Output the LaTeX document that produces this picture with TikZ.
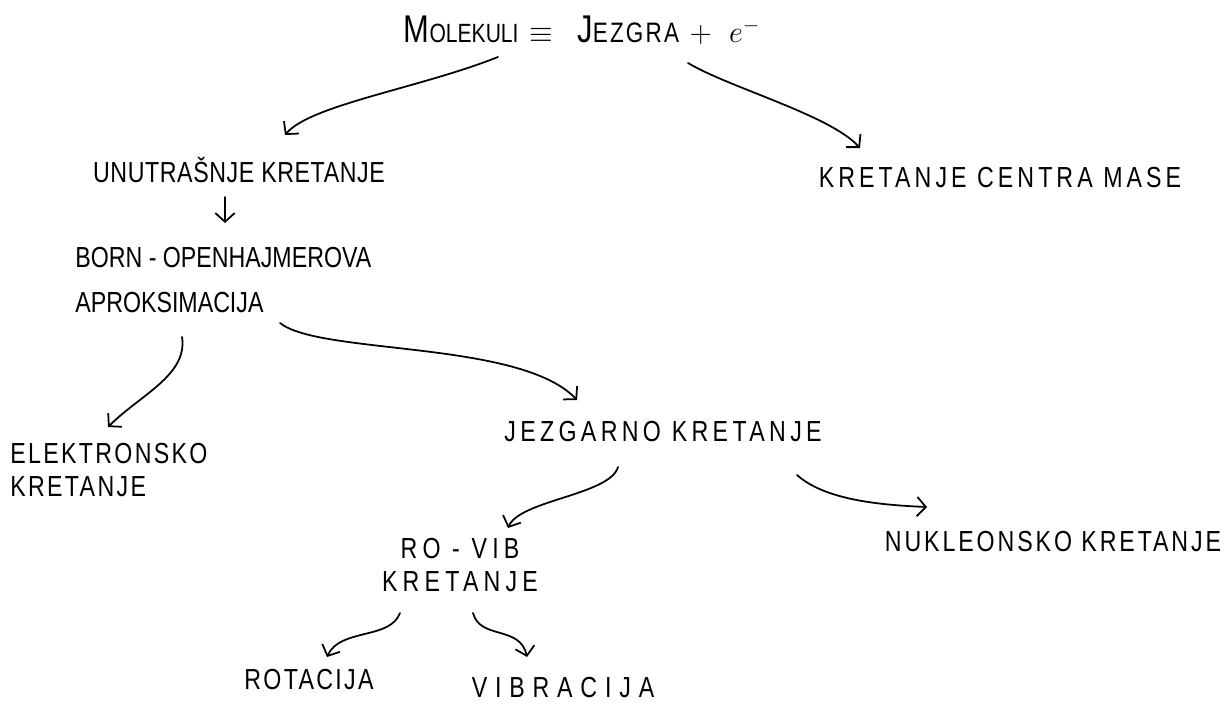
\documentclass[tikz,border=0pt]{standalone}
\usepackage{fontspec}
\setmainfont{Liberation Sans}[FakeStretch=0.8]
\usetikzlibrary{arrows.meta}
\newcommand{\ls}[1]{\addfontfeature{LetterSpace=#1}}
\begin{document}
\begin{tikzpicture}[x=0.02cm,y=-0.02cm,
  lbl/.style={inner sep=0pt, text=black, font=\fontsize{16.5}{20}\selectfont},
  arr/.style={line width=1pt, line cap=round, -{Straight Barb[length=5pt,width=11pt,line width=1pt]}}]
\useasboundingbox (0,0) rectangle (1227,707);
% nodes
\node[lbl] (top) at (582,30) {{\fontsize{22}{22}\selectfont M}{\fontsize{15}{15}\selectfont OLEKULI}\hspace{6pt}$\equiv$\hspace{14pt}{\fontsize{22}{22}\selectfont J}{\fontsize{16}{16}\selectfont\ls{8}EZGRA}\hspace{6pt}$+$\hspace{10pt}$e^{-}$};
\node[lbl] (un) at (239,170) {\ls{2}UNUTRAŠNJE KRETANJE};
\node[lbl] (cm) at (1000,178) {\ls{14}KRETANJE CENTRA MASE};
\node[lbl, anchor=west, align=left, font=\fontsize{16.5}{26}\selectfont] (born) at (75,280) {BORN - OPENHAJMEROVA\\APROKSIMACIJA};
\node[lbl, anchor=west, align=left, font=\fontsize{16.5}{19}\selectfont\ls{8}] (elek) at (10,470) {ELEKTRONSKO\\KRETANJE};
\node[lbl] (jez) at (663,432) {\ls{15}JEZGARNO KRETANJE};
\node[lbl] (nuk) at (1053,542) {\ls{10}NUKLEONSKO KRETANJE};
\node[lbl, align=center, font=\fontsize{16.5}{19}\selectfont\ls{18}] (rovib) at (460,565) {RO - VIB\\KRETANJE};
\node[lbl] (rot) at (309,680) {\ls{8}ROTACIJA};
\node[lbl] (vib) at (563,688) {\ls{27}VIBRACIJA};
% connectors
\draw[arr] ([shift={(-84,27)}]top.center) .. controls (420,88) and (310,105) .. ([shift={(46,-35)}]un.center);
\draw[arr] ([shift={(106,33)}]top.center) .. controls (730,88) and (830,115) .. ([shift={(-140,-30)}]cm.center);
\draw[arr] ([shift={(-14,27)}]un.center) -- ([shift={(150,-57)}]born.west);
\draw[arr] ([shift={(107,57)}]born.west) .. controls (188,375) and (140,395) .. ([shift={(98,-43)}]elek.west);
\draw[arr] ([shift={(205,43)}]born.west) .. controls (320,355) and (520,340) .. ([shift={(-86,-32)}]jez.center);
\draw[arr] ([shift={(-45,35)}]jez.center) .. controls (610,495) and (520,500) .. ([shift={(48,-37)}]rovib.center);
\draw[arr] ([shift={(134,43)}]jez.center) .. controls (825,500) and (880,505) .. ([shift={(-126,-35)}]nuk.center);
\draw[arr] ([shift={(-60,48)}]rovib.center) .. controls (390,640) and (340,628) .. ([shift={(18,-23)}]rot.center);
\draw[arr] ([shift={(13,48)}]rovib.center) .. controls (480,640) and (520,625) .. ([shift={(-36,-31)}]vib.center);
\end{tikzpicture}
\end{document}
